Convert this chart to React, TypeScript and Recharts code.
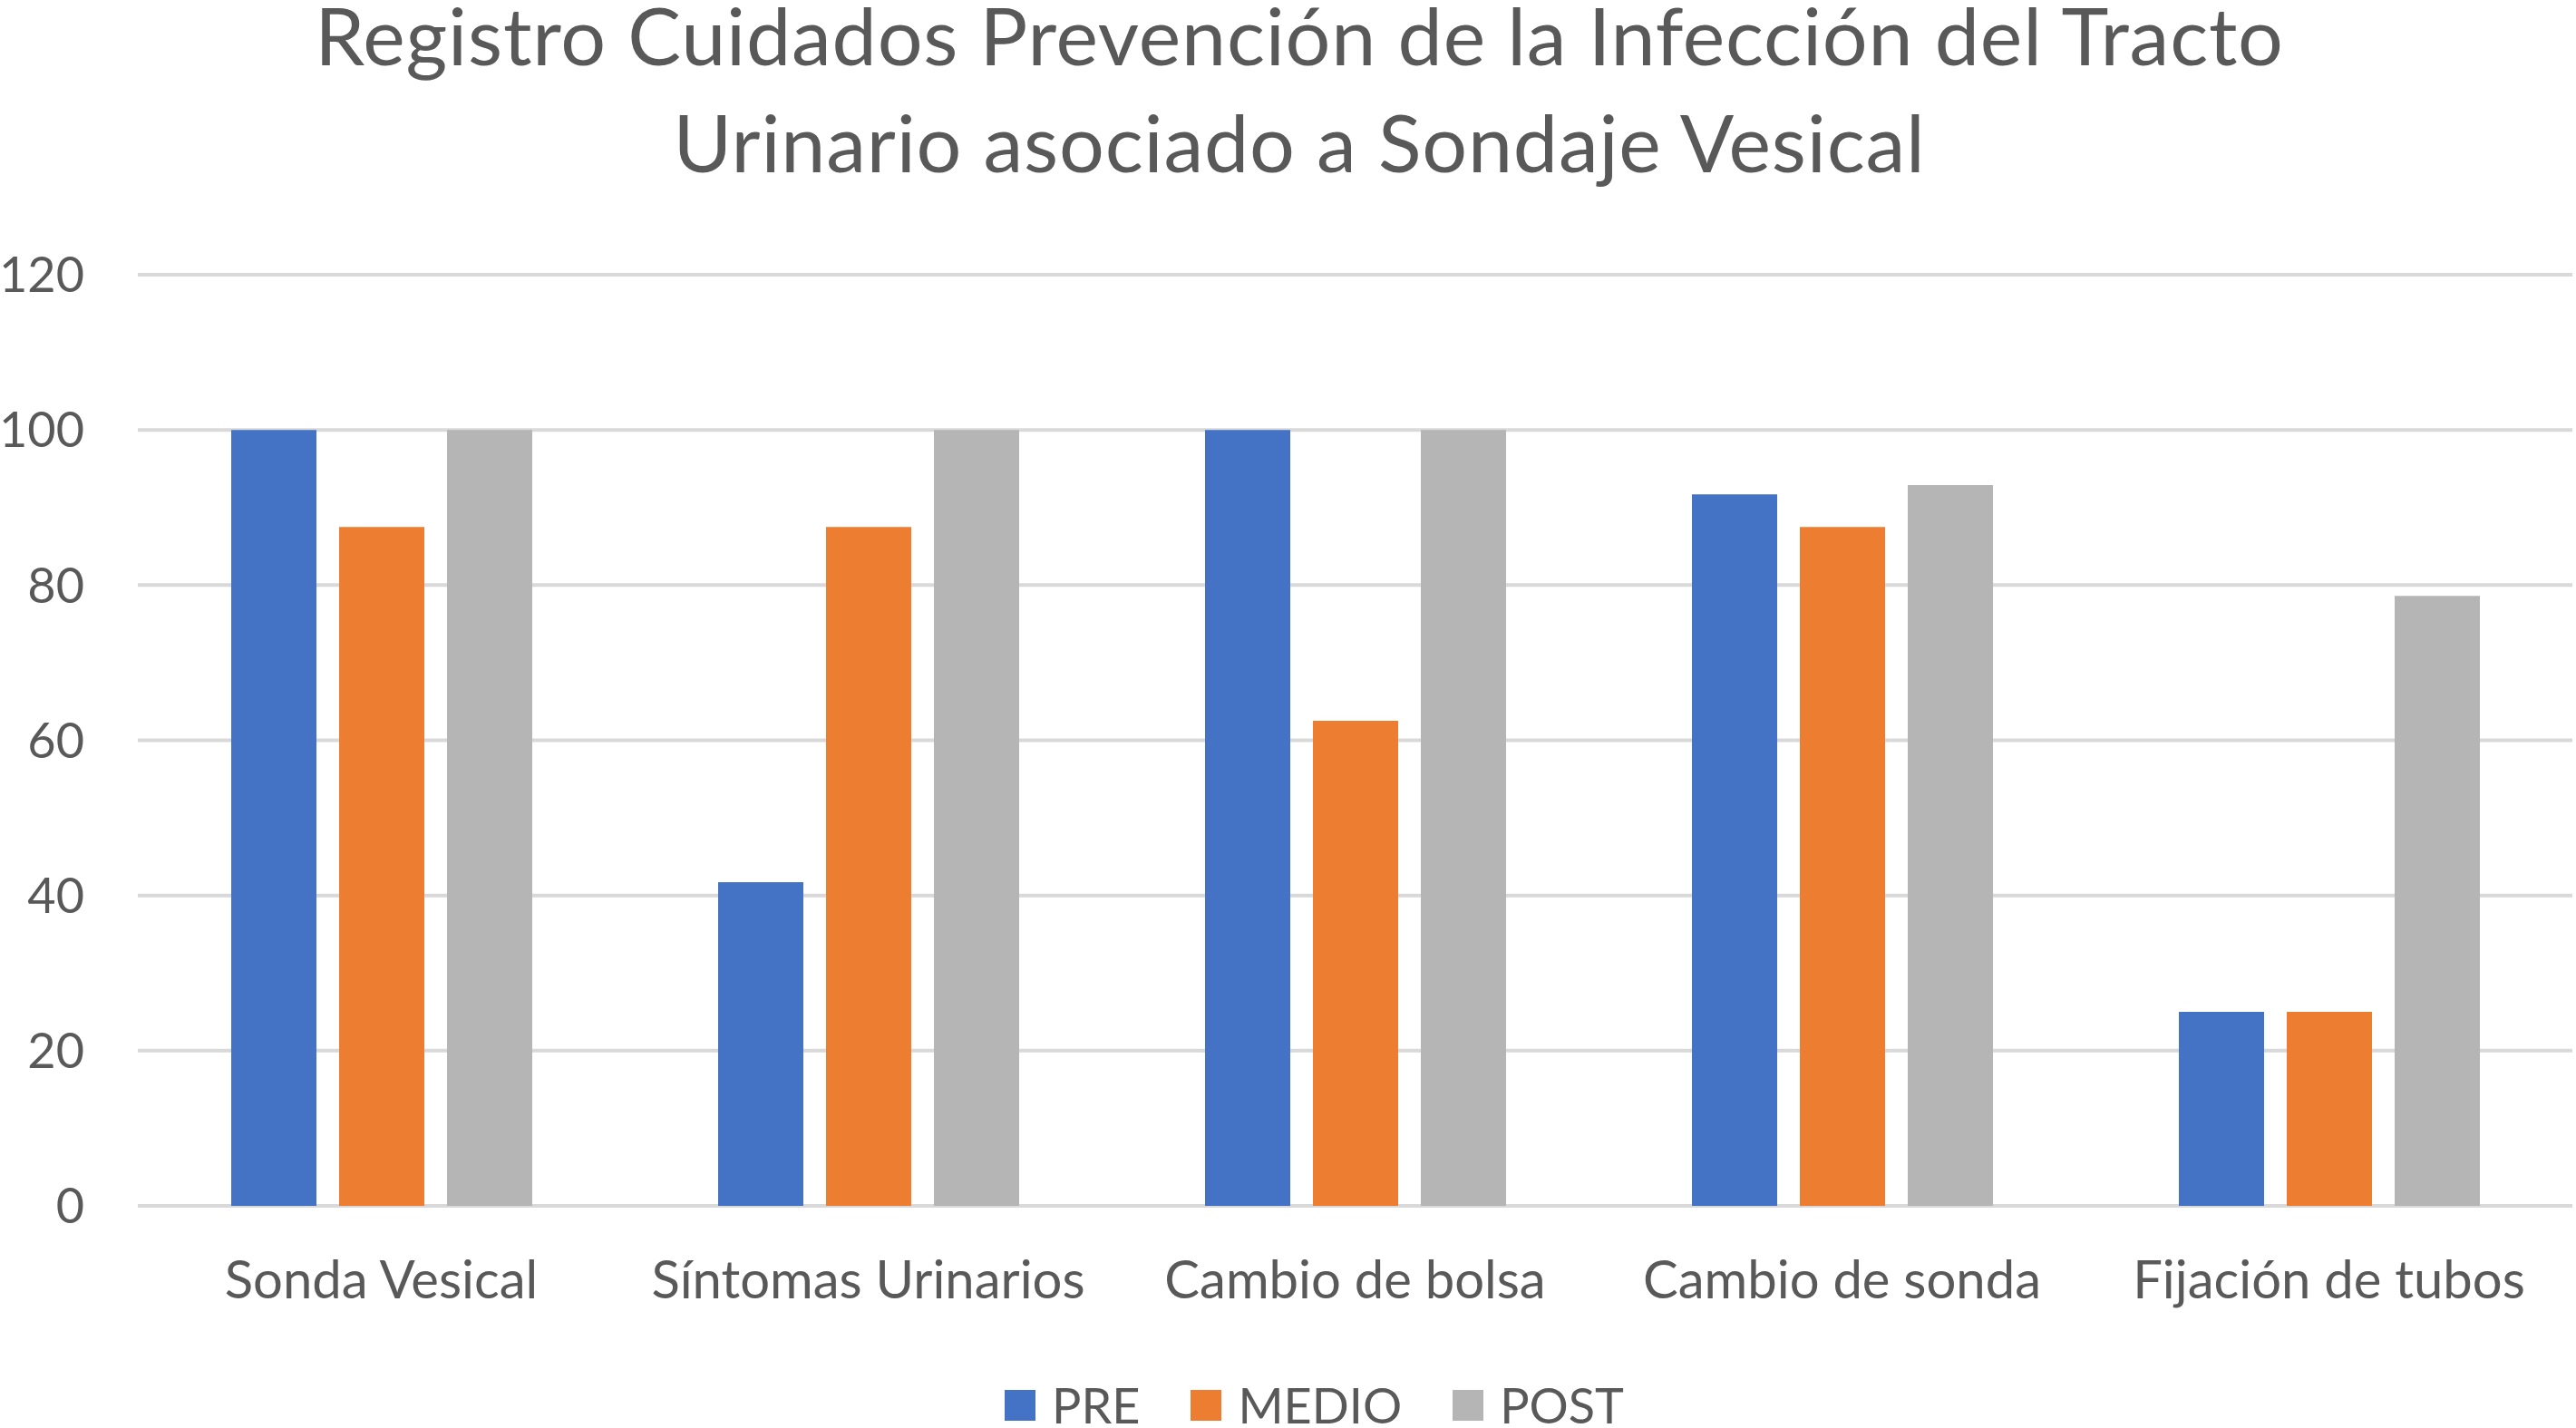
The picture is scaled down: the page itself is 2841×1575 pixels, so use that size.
import React from 'react';
import { BarChart, Bar, XAxis, YAxis, CartesianGrid, Legend } from 'recharts';

const categories = ['Sonda Vesical', 'Síntomas Urinarios', 'Cambio de bolsa', 'Cambio de sonda', 'Fijación de tubos'];
const preValues = [100, 41.7, 100, 91.7, 25];
const medioValues = [87.5, 87.5, 62.5, 87.5, 25];
const postValues = [100, 100, 100, 92.9, 78.6];
const yTicks = [0, 20, 40, 60, 80, 100, 120];
const seriesNames = ['PRE', 'MEDIO', 'POST'];
const seriesColors = ['#4472C4', '#ED7D31', '#B5B5B5'];
const titleLines = ['Registro Cuidados Prevención de la Infección del Tracto', 'Urinario asociado a Sondaje Vesical'];

const data = categories.map((name, i) => ({
  name,
  PRE: preValues[i],
  MEDIO: medioValues[i],
  POST: postValues[i],
}));

const FONT = 'Lato, "Open Sans", sans-serif';
const TEXT = '#595959';

const renderLegend = (props: any) => {
  const payload = [...(props.payload || [])].sort(
    (a: any, b: any) => seriesNames.indexOf(a.value) - seriesNames.indexOf(b.value)
  );
  return (
    <div
      style={{
        display: 'flex',
        justifyContent: 'center',
        alignItems: 'center',
        height: 40,
        paddingLeft: 58,
        fontFamily: FONT,
        fontSize: 54,
        color: TEXT,
      }}
    >
      {payload.map((entry: any, i: number) => (
        <div
          key={entry.value}
          style={{ display: 'flex', alignItems: 'center', marginRight: i < payload.length - 1 ? 56 : 0 }}
        >
          <span style={{ display: 'inline-block', width: 34, height: 34, background: entry.color, marginRight: 18 }} />
          <span style={{ lineHeight: '40px' }}>{entry.value}</span>
        </div>
      ))}
    </div>
  );
};

export default function App() {
  return (
    <div style={{ position: 'absolute', left: 0, top: 0, width: 2841, height: 1575, background: '#fff' }}>
      <svg
        width={2841}
        height={230}
        style={{ position: 'absolute', left: 0, top: 0, pointerEvents: 'none' }}
      >
        <text x={1433} y={72} textAnchor="middle" fontFamily={FONT} fontSize={88} letterSpacing={0.8} fill={TEXT}>
          {titleLines[0]}
        </text>
        <text x={1433} y={190} textAnchor="middle" fontFamily={FONT} fontSize={88} letterSpacing={0.8} fill={TEXT}>
          {titleLines[1]}
        </text>
      </svg>
      <BarChart
        width={2841}
        height={1575}
        data={data}
        margin={{ top: 303, right: 4, left: 0, bottom: 85 }}
        barSize={94}
        barGap={25}
      >
        <CartesianGrid vertical={false} stroke="#D9D9D9" strokeWidth={4} />
        <XAxis
          dataKey="name"
          height={120}
          axisLine={false}
          tickLine={false}
          tickMargin={55}
          interval={0}
          tick={{ fill: TEXT, fontSize: 58, fontFamily: FONT }}
        />
        <YAxis
          width={152}
          domain={[0, 120]}
          ticks={yTicks}
          axisLine={false}
          tickLine={false}
          tickMargin={53}
          tick={{ fill: TEXT, fontSize: 54, fontFamily: FONT }}
        />
        <Legend
          verticalAlign="bottom"
          content={renderLegend}
          wrapperStyle={{ top: 1530, bottom: 'auto', left: 0, width: 2841 }}
        />
        {seriesNames.map((s, i) => (
          <Bar key={s} dataKey={s} name={s} fill={seriesColors[i]} isAnimationActive={false} />
        ))}
      </BarChart>
    </div>
  );
}
